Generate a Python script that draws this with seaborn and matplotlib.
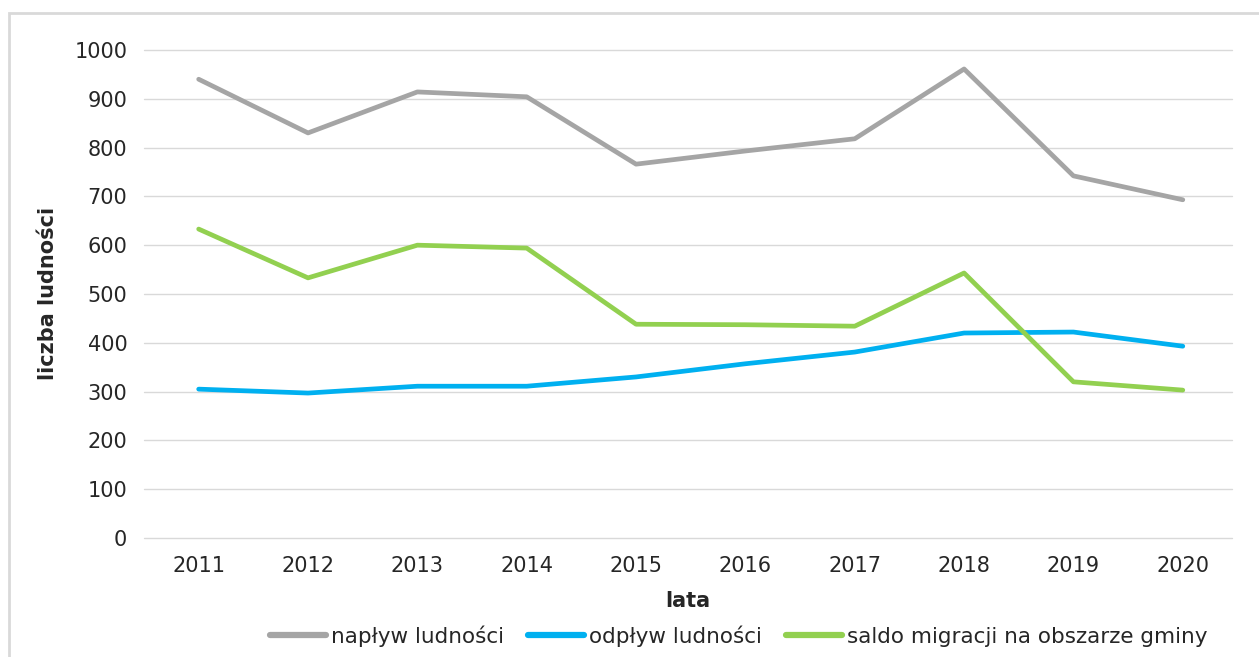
import matplotlib
matplotlib.use('Agg')
import matplotlib.pyplot as plt
import seaborn as sns
import pandas as pd
from matplotlib.patches import Rectangle

# Dane
lata = [2011, 2012, 2013, 2014, 2015, 2016, 2017, 2018, 2019, 2020]
naplyw = [940, 830, 914, 904, 766, 793, 818, 961, 742, 693]
odplyw = [305, 297, 311, 311, 330, 357, 381, 420, 422, 393]
saldo = [633, 533, 600, 594, 438, 437, 434, 543, 320, 303]

serie = ['napływ ludności', 'odpływ ludności', 'saldo migracji na obszarze gminy']
kolory = ['#A5A5A5', '#00B0F0', '#92D050']

df = pd.DataFrame({'lata': lata, serie[0]: naplyw, serie[1]: odplyw, serie[2]: saldo})
df = df.melt(id_vars='lata', var_name='seria', value_name='liczba')

sns.set_style('white')
plt.rcParams['font.family'] = ['DejaVu Sans']

fig = plt.figure(figsize=(12.59, 6.57), dpi=100)
ax = fig.add_axes([144 / 1259, 1 - 538 / 657, (1232 - 144) / 1259, (538 - 48) / 657])

sns.lineplot(data=df, x='lata', y='liczba', hue='seria', palette=kolory,
             linewidth=3.4, ax=ax, legend=False)

ax.set_xlim(2010.5, 2020.45)
ax.set_ylim(0, 1004)
ax.set_yticks(range(0, 1001, 100))
ax.set_xticks(lata)
ax.grid(axis='y', color='#d9d9d9', linewidth=1)
for g in ax.get_ygridlines():
    g.set_clip_on(False)
ax.set_axisbelow(True)
for s in ax.spines.values():
    s.set_visible(False)
ax.tick_params(length=0, labelsize=15, colors='#262626')
ax.tick_params(axis='y', pad=12)
ax.tick_params(axis='x', pad=13)
ax.set_xlabel('lata', fontsize=15, fontweight='bold', labelpad=11)
ax.set_ylabel('liczba ludności', fontsize=15, fontweight='bold', labelpad=12)

# legenda pod wykresem
uchwyty = [plt.Line2D([], [], color=c, linewidth=4.5) for c in kolory]
fig.legend(uchwyty, serie, loc='center', bbox_to_anchor=(739 / 1259, 1 - 636 / 657),
           ncol=3, frameon=False, handlelength=2.6, handletextpad=0.25,
           columnspacing=1.1,
           prop={'family': ['Liberation Sans Narrow', 'DejaVu Sans'], 'size': 15.5})

# ramka wokół wykresu
fig.patches.append(Rectangle((9 / 1259, -0.05), 1.2, 1 - 13 / 657 + 0.05,
                             transform=fig.transFigure, fill=False,
                             edgecolor='#d9d9d9', linewidth=2))

fig.savefig('out.png', dpi=100)
